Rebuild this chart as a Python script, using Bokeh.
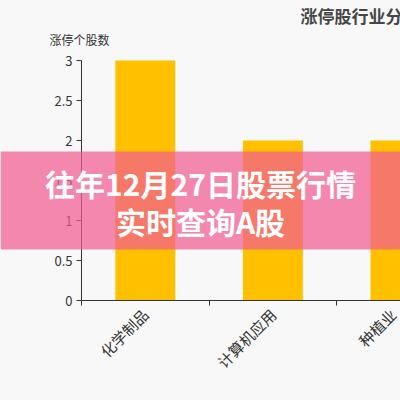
from bokeh.plotting import figure
from bokeh.models import Range1d, FixedTicker, Label, BoxAnnotation, ColumnDataSource
from bokeh.embed import file_html
from bokeh.resources import INLINE
import math

categories = ["化学制品", "计算机应用", "种植业"]
counts = [3, 2, 2]
y_ticks = [0, 0.5, 1, 1.5, 2, 2.5, 3]
y_tick_labels = ["0", "0.5", "1", "1.5", "2", "2.5", "3"]
title_text = "涨停股行业分布"
y_name = "涨停个股数"
banner_lines = ["往年12月27日股票行情", "实时查询A股"]

FONT = "Noto Sans CJK SC"
BG = "#f8f8f8"
W, H = 400, 400
X0, Y0 = 81, 300          # pixel position of data origin
PPX, PPY = 319 / 2.5, 80.0  # pixels per data unit

centers = [i + 0.5 for i in range(len(categories))]
src = ColumnDataSource(dict(x=centers, top=counts, cat=categories))

p = figure(width=W, height=H, output_backend="svg", toolbar_location=None,
           x_range=Range1d(-X0 / PPX, (W - X0) / PPX),
           y_range=Range1d(-(H - Y0) / PPY, Y0 / PPY),
           min_border=0, min_border_left=0, min_border_right=0,
           min_border_top=0, min_border_bottom=0)
p.background_fill_color = BG
p.border_fill_color = BG
p.outline_line_color = None
p.grid.visible = False

p.vbar(x="x", top="top", width=0.47, source=src, fill_color="#FFC000", line_color=None)

# x axis: labels at category centres, ticks at boundaries (minor ticks)
xa = p.xaxis[0]
xa.fixed_location = 0
xa.bounds = (0, 2.5)
xa.ticker = FixedTicker(ticks=centers, minor_ticks=list(range(len(categories) + 1)))
xa.major_label_overrides = {c: n for c, n in zip(centers, categories)}
xa.major_tick_out = 0
xa.major_tick_in = 0
xa.minor_tick_out = 5
xa.minor_tick_in = 0
xa.minor_tick_line_color = "#333333"
xa.axis_line_color = "#333333"
xa.major_label_orientation = math.pi / 4
xa.major_label_text_font = FONT
xa.major_label_text_font_size = "15px"
xa.major_label_text_color = "#333333"
xa.major_label_standoff = 6

ya = p.yaxis[0]
ya.fixed_location = 0
ya.bounds = (0, 3)
ya.ticker = FixedTicker(ticks=y_ticks, minor_ticks=[])
ya.major_label_overrides = {t: s for t, s in zip(y_ticks, y_tick_labels)}
ya.major_tick_out = 5
ya.major_tick_in = 0
ya.axis_line_color = "#333333"
ya.major_tick_line_color = "#333333"
ya.major_label_text_font = FONT
ya.major_label_text_font_size = "13px"
ya.major_label_text_color = "#333333"
ya.major_label_standoff = 4


def dx(rx):
    return (rx - X0) / PPX


def dy(ry):
    return (Y0 - ry) / PPY


p.add_layout(Label(x=dx(49), y=dy(39), text=y_name, text_font=FONT, text_font_size="12px",
                   text_color="#333333", text_align="left", text_baseline="middle"))
p.add_layout(Label(x=dx(300), y=dy(15), text=title_text, text_font=FONT, text_font_size="17px",
                   text_font_style="bold", text_color="#464646", text_align="left",
                   text_baseline="middle"))

p.add_layout(BoxAnnotation(left=dx(0), right=dx(400), top=dy(151), bottom=dy(249),
                           fill_color=(242, 92, 145), fill_alpha=0.72, line_color=None,
                           level="overlay"))
for i, line in enumerate(banner_lines):
    p.add_layout(Label(x=dx(200), y=dy(182 + 38 * i), text=line, text_font=FONT,
                       text_font_size="30px", text_font_style="bold", text_color="white",
                       text_align="center", text_baseline="middle", level="overlay"))

html = file_html(p, INLINE)
html = html.replace("</head>", "<style>body{background:%s;}</style></head>" % BG)
open("out.html", "w").write(html)
